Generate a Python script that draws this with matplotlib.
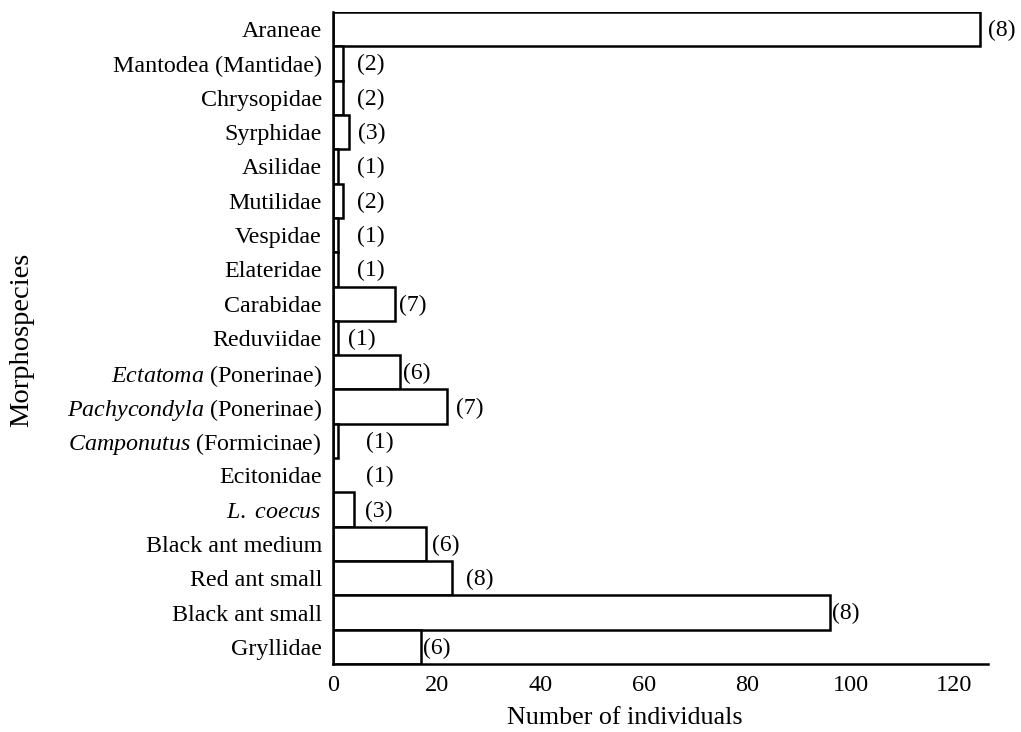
import numpy as np
import matplotlib
matplotlib.use("Agg")
import matplotlib.pyplot as plt

plt.rcParams['font.family'] = 'Liberation Serif'
plt.rcParams['mathtext.fontset'] = 'custom'
plt.rcParams['mathtext.rm'] = 'Liberation Serif'
plt.rcParams['mathtext.it'] = 'Liberation Serif:italic'

# rows from top to bottom
categories = [
    "Araneae",
    "Mantodea (Mantidae)",
    "Chrysopidae",
    "Syrphidae",
    "Asilidae",
    "Mutilidae",
    "Vespidae",
    "Elateridae",
    "Carabidae",
    "Reduviidae",
    r"$\mathit{Ectatoma}$ (Ponerinae)",
    r"$\mathit{Pachycondyla}$ (Ponerinae)",
    r"$\mathit{Camponutus}$ (Formicinae)",
    "Ecitonidae",
    r"$\mathit{L.\ coecus}$",
    "Black ant medium",
    "Red ant small",
    "Black ant small",
    "Gryllidae",
]
individuals = [125, 2, 2, 3, 1, 2, 1, 1, 12, 1, 13, 22, 1, 0, 4, 18, 23, 96, 17]
morphospecies = [8, 2, 2, 3, 1, 2, 1, 1, 7, 1, 6, 7, 1, 1, 3, 6, 8, 8, 6]

# gap between bar end and the "(n)" label, in pixels
label_gap_px = [8, 14, 14, 9, 19, 14, 19, 19, 4, 10, 3, 9, 28, 33, 11, 6, 14, 2, 2]

fig = plt.figure(figsize=(10.21, 7.32), dpi=100)
ax = fig.add_axes([333 / 1021, 1 - 664 / 732, (988 - 333) / 1021, (664 - 12) / 732])

y = np.arange(len(categories))[::-1]
ax.barh(y, individuals, height=1.0, color='white', edgecolor='black', linewidth=1.8)

for yi, v, n, gap in zip(y, individuals, morphospecies, label_gap_px):
    ax.annotate(f"({n})", xy=(v, yi), xytext=(gap * 0.72, -1), textcoords='offset points',
                ha='left', va='center', fontsize=17)

ax.set_xlim(0, 126.5)
ax.set_ylim(-0.5, len(categories) - 0.5)
ax.set_xticks([0, 20, 40, 60, 80, 100, 120])
ax.set_yticks(y)
ax.set_yticklabels(categories)
ax.tick_params(axis='both', length=0)
ax.tick_params(axis='y', pad=8, labelsize=17.3)
ax.tick_params(axis='x', pad=8, labelsize=17.5)

ax.spines['top'].set_visible(False)
ax.spines['right'].set_visible(False)
ax.spines['left'].set_linewidth(1.8)
ax.spines['bottom'].set_linewidth(1.8)

fig.text(625 / 1021, 1 - 718 / 732, "Number of individuals", ha='center', va='center', fontsize=18.7)
fig.text(22 / 1021, 1 - 340 / 732, "Morphospecies", rotation=90, ha='center', va='center', fontsize=20.5)

fig.savefig("out.png", dpi=100)
